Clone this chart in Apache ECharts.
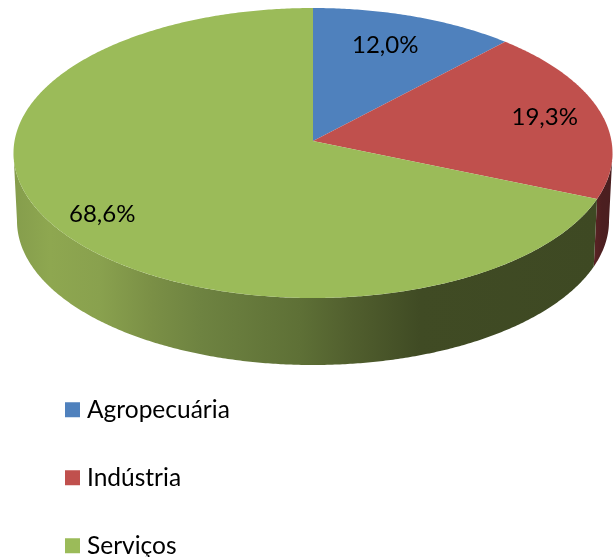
<!DOCTYPE html>
<html>
<head>
<meta charset="utf-8">
<style>html,body{margin:0;padding:0;background:#fff}#c{width:614px;height:557px}</style>
<script src="https://cdn.jsdelivr.net/npm/echarts@6/dist/echarts.min.js"></script>
</head>
<body>
<div id="c"></div>
<script>
const categories = ['Agropecuária', 'Indústria', 'Serviços'];
const shares = [12.0, 19.3, 68.6];
const colors = ['#4f81bd', '#c0504d', '#9bbb59'];

// Projection of the tilted pie
const apex = { x: 313, y: 141 };
const topRim = { cx: 313, cy: 153, rx: 299.5, ry: 145 };
const bottomRim = { cx: 313, cy: 221, rx: 296, ry: 144 };
const aspect = 2.06;
const FAMILY = 'Lato, "Open Sans", sans-serif';

// Label placement: radius along the slice's mid angle, plus a small nudge
const labelRadius = [103, 114.5, 124.6];
const labelNudge = [[-6, 0], [1, 0], [3, 4]];

const wallFills = [
  null,
  { type: 'linear', x: 595, y: 0, x2: 612, y2: 0, global: true, colorStops: [
    { offset: 0, color: '#5a2224' }, { offset: 0.4, color: '#4c1f20' }, { offset: 1, color: '#4a1f20' }] },
  { type: 'linear', x: 13, y: 0, x2: 600, y2: 0, global: true, colorStops: [
    { offset: 0, color: '#859d4c' }, { offset: 0.063, color: '#8ea750' }, { offset: 0.148, color: '#89a14e' },
    { offset: 0.233, color: '#7b9046' }, { offset: 0.319, color: '#6e8341' }, { offset: 0.489, color: '#5e7036' },
    { offset: 0.574, color: '#515f2e' }, { offset: 0.693, color: '#404b24' }, { offset: 1, color: '#3e4923' }] }
];

const total = shares.reduce((a, b) => a + b, 0);
const rad = d => d * Math.PI / 180;

// Angle of the pie (deg clockwise from top) -> ellipse parameter on the top rim
function rimParam(deg) {
  const dx = aspect * Math.sin(rad(deg)), dy = -Math.cos(rad(deg));
  const ox = (apex.x - topRim.cx) / topRim.rx, oy = (apex.y - topRim.cy) / topRim.ry;
  const ux = dx / topRim.rx, uy = dy / topRim.ry;
  const A = ux * ux + uy * uy, B = 2 * (ox * ux + oy * uy), C = ox * ox + oy * oy - 1;
  const s = (-B + Math.sqrt(B * B - 4 * A * C)) / (2 * A);
  const px = ox + ux * s, py = oy + uy * s;
  let t = Math.atan2(px, -py) * 180 / Math.PI;
  if (t < 0) t += 360;
  if (deg >= 359.999) t = 360;
  return t;
}
const onRim = (r, t) => [r.cx + r.rx * Math.sin(rad(t)), r.cy - r.ry * Math.cos(rad(t))];
function samples(a, b) {
  const out = [], n = Math.max(2, Math.ceil((b - a) / 0.5));
  for (let i = 0; i <= n; i++) out.push(a + (b - a) * i / n);
  return out;
}

function sliceItem(idx) {
  return function (params, api) {
    const v = api.value(0);
    let before = 0;
    for (let i = 0; i < idx; i++) before += shares[i];
    const a0 = before / total * 360, a1 = (before + v) / total * 360;
    const t0 = rimParam(a0), t1 = rimParam(a1);
    const children = [];
    const w0 = Math.max(t0, 90), w1 = Math.min(t1, 270);
    if (w1 > w0) {
      const ts = samples(w0, w1);
      const pts = ts.map(t => onRim(topRim, t)).concat(ts.slice().reverse().map(t => onRim(bottomRim, t)));
      children.push({ type: 'polygon', shape: { points: pts }, style: { fill: wallFills[idx] || colors[idx] } });
    }
    const top = [[apex.x, apex.y]].concat(samples(t0, t1).map(t => onRim(topRim, t)));
    children.push({ type: 'polygon', shape: { points: top }, style: { fill: colors[idx] } });
    const mid = rad((a0 + a1) / 2), r = labelRadius[idx], n = labelNudge[idx];
    children.push({
      type: 'text', z2: 10,
      style: {
        text: v.toFixed(1).replace('.', ',') + '%',
        x: apex.x + r * aspect * Math.sin(mid) + n[0],
        y: apex.y - r * Math.cos(mid) + n[1],
        font: '24px ' + FAMILY, fill: '#000', align: 'center', verticalAlign: 'middle'
      }
    });
    return { type: 'group', children };
  };
}

const chart = echarts.init(document.getElementById('c'), null, { renderer: 'canvas' });
chart.setOption({
  animation: false,
  backgroundColor: '#fff',
  legend: {
    orient: 'vertical', left: 65, top: 397.25, height: 300, padding: 0,
    icon: 'rect', itemWidth: 15, itemHeight: 15, itemGap: 43,
    selectedMode: false,
    data: categories,
    textStyle: { fontFamily: FAMILY, fontSize: 24.5, color: '#000', padding: [0, 0, 0, 2] }
  },
  series: categories.map((name, i) => ({
    type: 'custom', name, coordinateSystem: 'none', silent: true,
    itemStyle: { color: colors[i] },
    data: [[shares[i]]],
    renderItem: sliceItem(i)
  }))
});
</script>
</body>
</html>
